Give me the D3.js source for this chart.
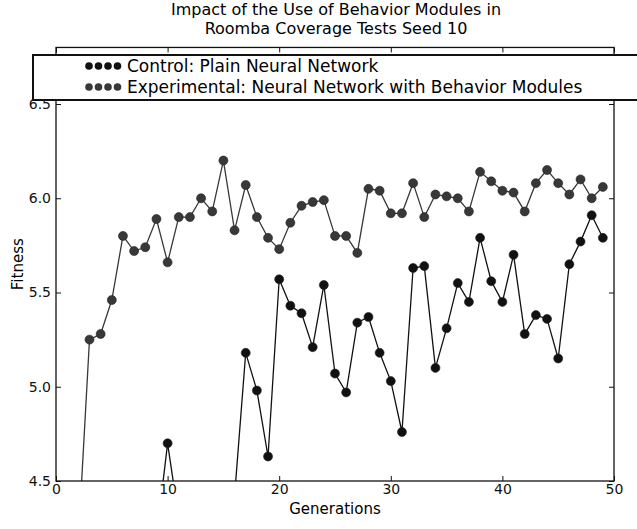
<!DOCTYPE html>
<html>
<head>
<meta charset="utf-8">
<script src="https://cdn.jsdelivr.net/npm/d3@7"></script>
<style>
body { margin: 0; background: #fff; }
svg { font-family: "DejaVu Sans", sans-serif; }
</style>
</head>
<body>
<svg width="637" height="529"></svg>
<script>
// values (points below 4.5 are hidden by the axes)
var controlGens = [9, 10, 11, 12, 13, 14, 15, 16, 17, 18, 19, 20, 21, 22, 23, 24, 25, 26, 27, 28, 29,
                   30, 31, 32, 33, 34, 35, 36, 37, 38, 39, 40, 41, 42, 43, 44, 45, 46, 47, 48, 49];
var controlValues = [4.20, 4.70, 4.30, 4.35, 4.30, 4.40, 4.30, 4.42, 5.18, 4.98, 4.63, 5.57, 5.43, 5.39, 5.21, 5.54, 5.07, 4.97, 5.34, 5.37, 5.18,
                     5.03, 4.76, 5.63, 5.64, 5.10, 5.31, 5.55, 5.45, 5.79, 5.56, 5.45, 5.70, 5.28, 5.38, 5.36, 5.15, 5.65, 5.77, 5.91, 5.79];

var expGens = [2, 3, 4, 5, 6, 7, 8, 9, 10, 11, 12, 13, 14, 15, 16, 17, 18, 19, 20, 21, 22, 23, 24, 25,
               26, 27, 28, 29, 30, 31, 32, 33, 34, 35, 36, 37, 38, 39, 40, 41, 42, 43, 44, 45, 46, 47, 48, 49];
var expValues = [4.18, 5.25, 5.28, 5.46, 5.80, 5.72, 5.74, 5.89, 5.66, 5.90, 5.90, 6.00, 5.93, 6.20, 5.83, 6.07, 5.90, 5.79, 5.73, 5.87, 5.96, 5.98, 5.99, 5.80,
                 5.80, 5.71, 6.05, 6.04, 5.92, 5.92, 6.08, 5.90, 6.02, 6.01, 6.00, 5.93, 6.14, 6.09, 6.04, 6.03, 5.93, 6.08, 6.15, 6.08, 6.02, 6.10, 6.00, 6.06];

var xTicks = [0, 10, 20, 30, 40, 50];
var yTicks = [4.5, 5.0, 5.5, 6.0, 6.5];
var titleLines = ["Impact of the Use of Behavior Modules in", "Roomba Coverage Tests Seed 10"];
var legendLabels = ["Control: Plain Neural Network", "Experimental: Neural Network with Behavior Modules"];
var seriesColors = ["#111111", "#383838"];

var svg = d3.select("svg");
var yTop = 6.8;

var x = d3.scaleLinear().domain([0, 50]).range([56, 614]);
var y = d3.scaleLinear().domain([4.5, 6.5]).range([481, 104]);

svg.append("defs").append("clipPath").attr("id", "plotclip")
  .append("rect")
  .attr("x", x(0)).attr("y", y(yTop))
  .attr("width", x(50) - x(0)).attr("height", y(4.5) - y(yTop));

// title
svg.append("g").selectAll("text")
  .data(titleLines)
  .enter().append("text")
  .attr("x", 336)
  .attr("y", function(d, i) { return 15 + i * 19; })
  .attr("text-anchor", "middle")
  .attr("font-size", 16)
  .text(function(d) { return d; });

// series
var series = [
  { gens: controlGens, vals: controlValues, color: seriesColors[0] },
  { gens: expGens, vals: expValues, color: seriesColors[1] }
];

var line = d3.line()
  .x(function(d) { return x(d[0]); })
  .y(function(d) { return y(d[1]); });

var plot = svg.append("g").attr("clip-path", "url(#plotclip)");

series.forEach(function(s) {
  var pts = d3.zip(s.gens, s.vals);
  plot.append("path")
    .attr("d", line(pts))
    .attr("fill", "none")
    .attr("stroke", s.color)
    .attr("stroke-width", 1.3);
  plot.selectAll(null)
    .data(pts)
    .enter().append("circle")
    .attr("cx", function(d) { return x(d[0]); })
    .attr("cy", function(d) { return y(d[1]); })
    .attr("r", 4.5)
    .attr("fill", s.color)
    .attr("stroke", "#222")
    .attr("stroke-width", 0.6);
});

// axes, ticks pointing inward
var axisFont = 14;
var gLeft = svg.append("g").attr("transform", "translate(" + x(0) + ",0)")
  .call(d3.axisLeft(y).tickValues(yTicks).tickSizeInner(-5).tickSizeOuter(0).tickPadding(5).tickFormat(d3.format(".1f")));
var gBottom = svg.append("g").attr("transform", "translate(0," + y(4.5) + ")")
  .call(d3.axisBottom(x).tickValues(xTicks).tickSizeInner(-5).tickSizeOuter(0).tickPadding(3).tickFormat(d3.format("d")));
var gTop = svg.append("g").attr("transform", "translate(0," + y(yTop) + ")")
  .call(d3.axisTop(x).tickValues(xTicks).tickSizeInner(-5).tickSizeOuter(0).tickFormat(""));
var gRight = svg.append("g").attr("transform", "translate(" + x(50) + ",0)")
  .call(d3.axisRight(y).tickValues(yTicks).tickSizeInner(-5).tickSizeOuter(0).tickFormat(""));

[gLeft, gBottom, gTop, gRight].forEach(function(g) {
  g.select(".domain").remove();
  g.selectAll("line").attr("stroke", "#111").attr("stroke-width", 1);
  g.selectAll("text").attr("font-size", axisFont).attr("font-family", "DejaVu Sans").attr("fill", "#111");
});

svg.append("rect")
  .attr("x", x(0)).attr("y", y(yTop))
  .attr("width", x(50) - x(0)).attr("height", y(4.5) - y(yTop))
  .attr("fill", "none")
  .attr("stroke", "#111")
  .attr("stroke-width", 1.3);

// axis labels
svg.append("text")
  .attr("x", (x(0) + x(50)) / 2)
  .attr("y", 514)
  .attr("text-anchor", "middle")
  .attr("font-size", 15)
  .text("Generations");

svg.append("text")
  .attr("transform", "translate(23," + (y(yTop) + y(4.5)) / 2 + ") rotate(-90)")
  .attr("text-anchor", "middle")
  .attr("font-size", 15)
  .text("Fitness");

// legend
var legend = svg.append("g");
legend.append("rect")
  .attr("x", 33).attr("y", 55)
  .attr("width", 620).attr("height", 45)
  .attr("fill", "#fff")
  .attr("stroke", "#111")
  .attr("stroke-width", 2);

legendLabels.forEach(function(label, i) {
  var cy = 66 + i * 21;
  legend.selectAll(null)
    .data(d3.range(4))
    .enter().append("circle")
    .attr("cx", function(k) { return 89 + k * 9.5; })
    .attr("cy", cy)
    .attr("r", 3.8)
    .attr("fill", seriesColors[i]);
  legend.append("text")
    .attr("x", 127)
    .attr("y", cy)
    .attr("dy", "0.36em")
    .attr("font-size", 17)
    .text(label);
});
</script>
</body>
</html>
